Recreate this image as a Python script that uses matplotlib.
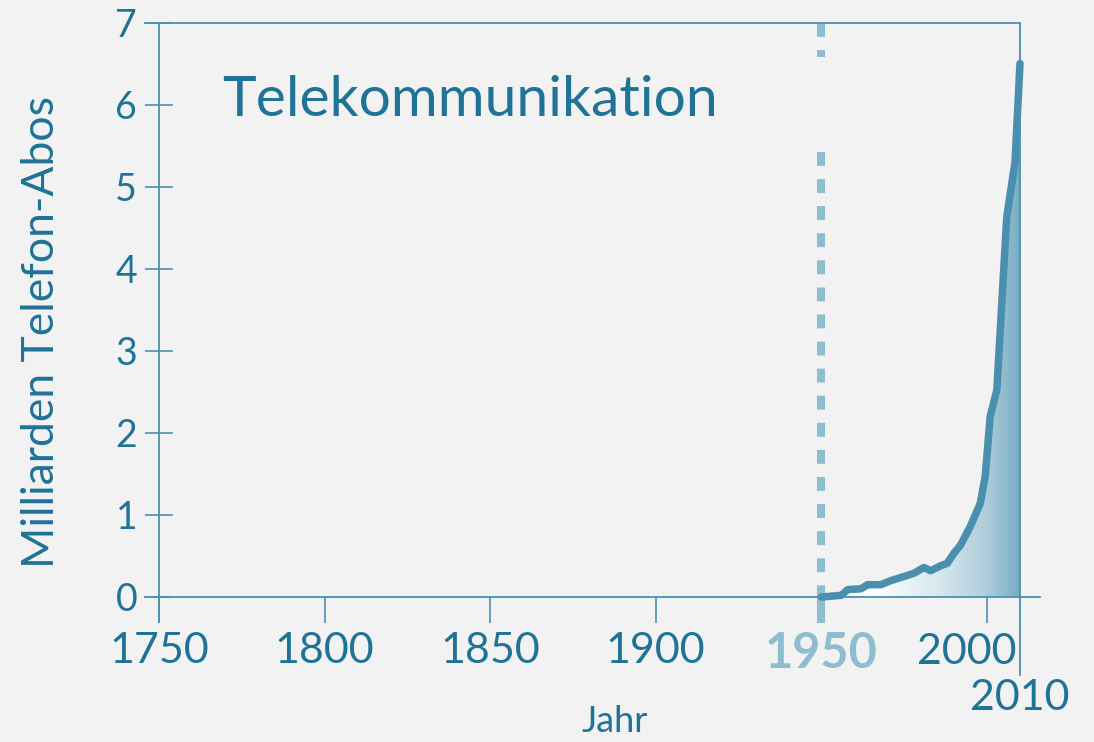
import numpy as np
import matplotlib
matplotlib.use("Agg")
import matplotlib.pyplot as plt
from matplotlib.colors import LinearSegmentedColormap

# values (billions of phone subscriptions)
years = [1950, 1956, 1958, 1962, 1964, 1968, 1971, 1975, 1978, 1981, 1983,
         1986, 1988, 1990, 1992, 1995, 1998, 1999.5, 2001, 2003, 2006, 2008.5, 2010]
subs = [0.0, 0.02, 0.09, 0.10, 0.15, 0.15, 0.20, 0.25, 0.29, 0.36, 0.32,
        0.38, 0.41, 0.53, 0.63, 0.86, 1.14, 1.47, 2.2, 2.52, 4.63, 5.3, 6.5]

x_ticks = [1750, 1800, 1850, 1900]
y_ticks = [0, 1, 2, 3, 4, 5, 6, 7]

title = "Telekommunikation"
xlabel = "Jahr"
ylabel = "Milliarden Telefon-Abos"

bg = "#f2f2f2"
txt = "#1f7397"
axc = "#4b91ae"
curve = "#4a8fad"
light = "#8fbdd0"

plt.rcParams['font.family'] = ['Lato', 'DejaVu Sans']
plt.rcParams['lines.scale_dashes'] = False

fig = plt.figure(figsize=(10.94, 7.42), dpi=100, facecolor=bg)
# axes box in pixels: x 145..1040, y 22.5..622
W, H = 1094, 742
ax = fig.add_axes([145 / W, (H - 622) / H, (1040 - 145) / W, (622 - 22.5) / H])
ax.set_facecolor(bg)

pxyr = 861 / 260.0
ax.set_xlim(1750 - 14 / pxyr, 2010 + 20 / pxyr)
ax.set_ylim(-25 / 82.07, 7.0)

# gradient fill below the curve
cmap = LinearSegmentedColormap.from_list("g", [(0, "#ffffff"), (0.25, "#ffffff"),
                                               (0.6, "#d6e7ee"), (0.83, "#aecedb"),
                                               (1.0, "#78acc3")])
grad = np.linspace(0, 1, 256).reshape(1, -1)
im = ax.imshow(grad, extent=(1950, 2010, 0, 7), aspect="auto", cmap=cmap,
               origin="lower", zorder=1)
poly = ax.fill_between(years, subs, 0, color="none", lw=0)
im.set_clip_path(poly.get_paths()[0], transform=ax.transData)

# dashed line at 1950
ax.plot([1950, 1950], [7.0, 6.58], color=light, lw=5.8, dashes=(10, 9.5),
        dash_capstyle="butt", zorder=2)
ax.plot([1950, 1950], [5.42, 0.02], color=light, lw=5.8, dashes=(10, 9.5),
        dash_capstyle="butt", zorder=2)
ax.plot([1950, 1950], [0.04, -0.32], color=light, lw=5.8, solid_capstyle="butt",
        zorder=2, clip_on=False)

ax.plot(years, subs, color=curve, lw=5.4, solid_capstyle="round",
        solid_joinstyle="round", zorder=4)

# frame
for s in ax.spines.values():
    s.set_color(axc)
    s.set_linewidth(1.3)
ax.spines['left'].set_position(('data', 1750))
ax.spines['bottom'].set_position(('data', 0))
ax.spines['right'].set_position(('data', 2010))
ax.spines['right'].set_bounds(-0.95, 7)
ax.spines['top'].set_bounds(1750 - 14 / pxyr, 2010)
ax.spines['right'].set_zorder(5)

ax.set_yticks(y_ticks)
ax.set_yticklabels([str(v) for v in y_ticks])
ax.tick_params(axis='y', direction='inout', length=19.5, width=1.2, color=axc,
               labelsize=27, labelcolor=txt, pad=6)
ax.set_xticks(x_ticks + [2000])
ax.set_xticklabels([str(v) for v in x_ticks] + [""])
ax.tick_params(axis='x', direction='out', length=19, width=1.2, color=axc,
               labelsize=31, labelcolor=txt, pad=6)

ax.text(2000 - 6, -0.44, "2000", fontsize=31, color=txt, ha="center", va="top")
ax.text(1950, -0.42, "1950", fontsize=35, color=light, fontweight="bold",
        ha="center", va="top")
ax.text(2010, -1.0, "2010", fontsize=31, color=txt, ha="center", va="top")

ax.text(1769, 6.05, title, fontsize=41, color=txt, ha="left", va="center")
fig.text(615 / W, 1 - 722 / H, xlabel, fontsize=26, color=txt, ha="center", va="center")
fig.text(42 / W, 1 - 332 / H, ylabel, fontsize=32, color=txt, rotation=90,
         ha="center", va="center")

fig.savefig("out.png", dpi=100, facecolor=bg)
